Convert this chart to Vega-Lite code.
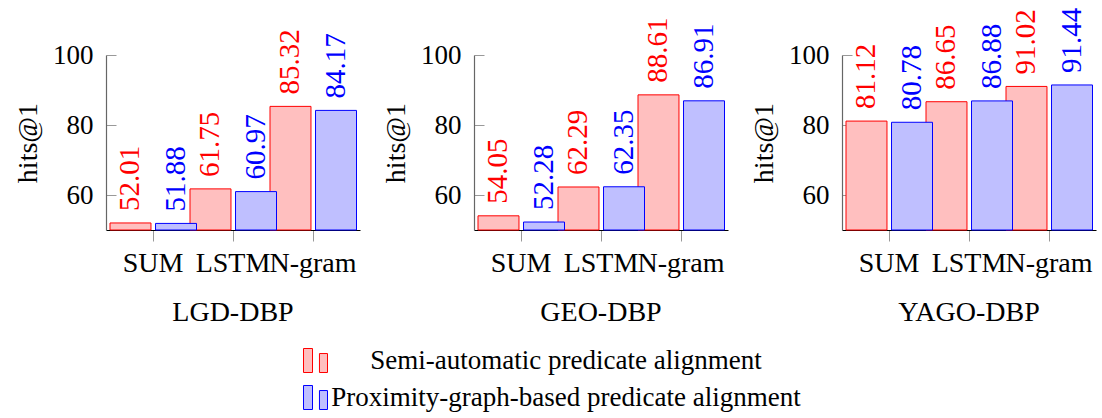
{
  "$schema": "https://vega.github.io/schema/vega-lite/v6.json",
  "padding": {"left": 14, "top": 7, "right": 5, "bottom": 5},
  "background": "white",
  "data": {"values": [
    {"dataset": "LGD-DBP", "method": "SUM", "series": "Semi-automatic predicate alignment", "value": 52.01},
    {"dataset": "LGD-DBP", "method": "LSTM", "series": "Semi-automatic predicate alignment", "value": 61.75},
    {"dataset": "LGD-DBP", "method": "N-gram", "series": "Semi-automatic predicate alignment", "value": 85.32},
    {"dataset": "GEO-DBP", "method": "SUM", "series": "Semi-automatic predicate alignment", "value": 54.05},
    {"dataset": "GEO-DBP", "method": "LSTM", "series": "Semi-automatic predicate alignment", "value": 62.29},
    {"dataset": "GEO-DBP", "method": "N-gram", "series": "Semi-automatic predicate alignment", "value": 88.61},
    {"dataset": "YAGO-DBP", "method": "SUM", "series": "Semi-automatic predicate alignment", "value": 81.12},
    {"dataset": "YAGO-DBP", "method": "LSTM", "series": "Semi-automatic predicate alignment", "value": 86.65},
    {"dataset": "YAGO-DBP", "method": "N-gram", "series": "Semi-automatic predicate alignment", "value": 91.02},
    {"dataset": "LGD-DBP", "method": "SUM", "series": "Proximity-graph-based predicate alignment", "value": 51.88},
    {"dataset": "LGD-DBP", "method": "LSTM", "series": "Proximity-graph-based predicate alignment", "value": 60.97},
    {"dataset": "LGD-DBP", "method": "N-gram", "series": "Proximity-graph-based predicate alignment", "value": 84.17},
    {"dataset": "GEO-DBP", "method": "SUM", "series": "Proximity-graph-based predicate alignment", "value": 52.28},
    {"dataset": "GEO-DBP", "method": "LSTM", "series": "Proximity-graph-based predicate alignment", "value": 62.35},
    {"dataset": "GEO-DBP", "method": "N-gram", "series": "Proximity-graph-based predicate alignment", "value": 86.91},
    {"dataset": "YAGO-DBP", "method": "SUM", "series": "Proximity-graph-based predicate alignment", "value": 80.78},
    {"dataset": "YAGO-DBP", "method": "LSTM", "series": "Proximity-graph-based predicate alignment", "value": 86.88},
    {"dataset": "YAGO-DBP", "method": "N-gram", "series": "Proximity-graph-based predicate alignment", "value": 91.44}
  ]},
  "facet": {
    "column": {
      "field": "dataset",
      "type": "nominal",
      "sort": ["LGD-DBP", "GEO-DBP", "YAGO-DBP"],
      "header": {
        "title": null,
        "labelOrient": "bottom",
        "labelFont": "Liberation Serif",
        "labelFontSize": 28,
        "labelColor": "black",
        "labelPadding": 69
      }
    }
  },
  "spacing": 114,
  "bounds": "flush",
  "resolve": {"axis": {"x": "independent", "y": "independent"}},
  "spec": {
    "width": 254,
    "height": 175,
    "encoding": {
      "x": {
        "field": "method",
        "type": "nominal",
        "sort": ["SUM", "LSTM", "N-gram"],
        "scale": {"paddingInner": 0, "paddingOuter": 0.0875},
        "axis": {"labelFont": "Liberation Serif", "labelFontSize": 28},
        "title": null
      },
      "xOffset": {
        "field": "series",
        "type": "nominal",
        "sort": ["Semi-automatic predicate alignment", "Proximity-graph-based predicate alignment"],
        "scale": {"range": [-3, 83.5], "paddingInner": 0.1, "paddingOuter": 0}
      },
      "y": {
        "field": "value",
        "type": "quantitative",
        "scale": {"domain": [50, 100], "nice": false, "zero": false},
        "axis": {"values": [60, 80, 100], "labelFont": "Liberation Serif", "labelFontSize": 27, "titleFont": "Liberation Serif", "titleFontSize": 28},
        "title": "hits@1"
      }
    },
    "layer": [
      {
        "mark": {"type": "bar", "strokeWidth": 1},
        "encoding": {
          "y2": {"datum": 50},
          "fill": {
            "field": "series",
            "type": "nominal",
            "scale": {
              "domain": ["Semi-automatic predicate alignment", "Proximity-graph-based predicate alignment"],
              "range": ["#ffbfbf", "#bfbfff"]
            },
            "legend": {
              "orient": "none",
              "legendX": 196,
              "legendY": 292,
              "title": null,
              "padding": 0,
              "labelFont": "Liberation Serif",
              "labelFontSize": 27,
              "labelColor": "black",
              "labelLimit": 1000,
              "labelAlign": "center",
              "labelOffset": 237,
              "symbolType": "M-1,-1H-0.25V1H-1Z M0.33,-0.58H1V1H0.33Z",
              "symbolSize": 576,
              "symbolStrokeWidth": 1,
              "symbolOffset": 0,
              "rowPadding": 8
            }
          },
          "stroke": {
            "field": "series",
            "type": "nominal",
            "scale": {
              "domain": ["Semi-automatic predicate alignment", "Proximity-graph-based predicate alignment"],
              "range": ["#ff0000", "#0000ff"]
            },
            "legend": {
              "orient": "none",
              "legendX": 196,
              "legendY": 292,
              "title": null
            }
          }
        }
      },
      {
        "mark": {"type": "text", "angle": -90, "align": "left", "baseline": "middle", "dx": 12, "font": "Liberation Serif", "fontSize": 29},
        "encoding": {
          "text": {"field": "value", "type": "quantitative", "format": ".2f"},
          "color": {
            "field": "series",
            "type": "nominal",
            "scale": {
              "domain": ["Semi-automatic predicate alignment", "Proximity-graph-based predicate alignment"],
              "range": ["#ff0000", "#0000ff"]
            },
            "legend": null
          }
        }
      }
    ]
  },
  "config": {
    "font": "Liberation Serif",
    "view": {"stroke": null},
    "axis": {
      "labelFont": "Liberation Serif",
      "labelFontSize": 27,
      "labelColor": "black",
      "titleFont": "Liberation Serif",
      "titleFontSize": 27,
      "titleFontWeight": "normal",
      "titleColor": "black",
      "grid": false
    },
    "axisX": {
      "domainColor": "black",
      "domainWidth": 1.2,
      "tickColor": "#999",
      "tickSize": 11,
      "labelAngle": 0,
      "labelPadding": 8,
      "labelOverlap": false,
      "labelBound": false
    },
    "axisY": {
      "domainColor": "#666",
      "domainWidth": 1.2,
      "tickColor": "#999",
      "tickSize": -10,
      "labelPadding": 23,
      "titlePadding": 10
    }
  }
}
